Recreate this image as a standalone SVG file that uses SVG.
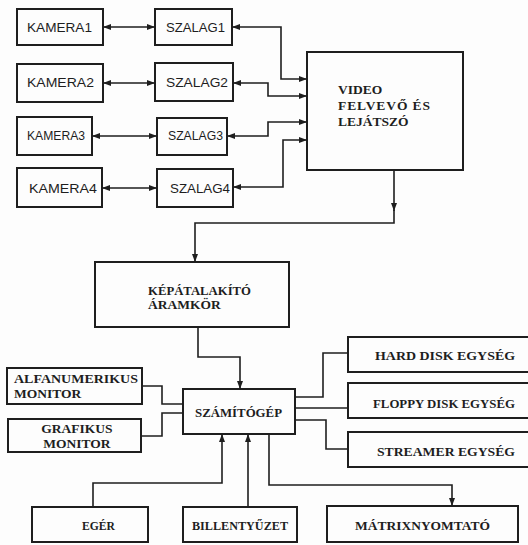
<svg xmlns="http://www.w3.org/2000/svg" width="528" height="545" viewBox="0 0 528 545">
  <style>
    .box { fill: none; stroke: #1e1e1e; stroke-width: 2; }
    .wire { fill: none; stroke: #1e1e1e; stroke-width: 1.6; }
    .sans { font-family: "Liberation Sans", Arial, sans-serif; font-size: 13.5px; fill: #1e1e1e; }
    .serif { font-family: "Liberation Serif", "Times New Roman", serif; font-size: 13.5px; font-weight: bold; fill: #1e1e1e; }
  </style>
  <defs>
    <marker id="arrow" viewBox="0 0 8 6" refX="8" refY="3" markerWidth="8" markerHeight="6" markerUnits="userSpaceOnUse" orient="auto-start-reverse">
      <path d="M0,0 L8,3 L0,6 Z" fill="#1e1e1e"/>
    </marker>
  </defs>
  <rect width="528" height="545" fill="#fdfdfd"/>

  <!-- cameras -->
  <g id="kamera1"><rect class="box" x="17" y="9" width="86" height="36"/><text class="sans" x="27" y="32" textLength="65" lengthAdjust="spacingAndGlyphs">KAMERA1</text></g>
  <g id="kamera2"><rect class="box" x="17" y="64" width="86" height="38"/><text class="sans" x="27" y="87" textLength="67" lengthAdjust="spacingAndGlyphs">KAMERA2</text></g>
  <g id="kamera3"><rect class="box" x="17" y="117" width="75" height="38"/><text class="sans" x="27" y="140" textLength="58" lengthAdjust="spacingAndGlyphs">KAMERA3</text></g>
  <g id="kamera4"><rect class="box" x="17" y="168" width="85" height="39"/><text class="sans" x="29" y="193" textLength="68" lengthAdjust="spacingAndGlyphs">KAMERA4</text></g>

  <!-- tapes -->
  <g id="szalag1"><rect class="box" x="155" y="9" width="77" height="36"/><text class="sans" x="166" y="32" textLength="59" lengthAdjust="spacingAndGlyphs">SZALAG1</text></g>
  <g id="szalag2"><rect class="box" x="155" y="63" width="78" height="38"/><text class="sans" x="166" y="87" textLength="62" lengthAdjust="spacingAndGlyphs">SZALAG2</text></g>
  <g id="szalag3"><rect class="box" x="157" y="118" width="70" height="37"/><text class="sans" x="168" y="140" textLength="55" lengthAdjust="spacingAndGlyphs">SZALAG3</text></g>
  <g id="szalag4"><rect class="box" x="157" y="169" width="76" height="38"/><text class="sans" x="170" y="193" textLength="60" lengthAdjust="spacingAndGlyphs">SZALAG4</text></g>

  <!-- video recorder -->
  <g id="video">
    <rect class="box" x="307" y="52" width="156" height="118"/>
    <text class="serif" x="338" y="94">VIDEO</text>
    <text class="serif" x="338" y="110" textLength="92" lengthAdjust="spacing">FELVEVŐ ÉS</text>
    <text class="serif" x="338" y="126">LEJÁTSZÓ</text>
  </g>

  <!-- image converter -->
  <g id="kepatalakito">
    <rect class="box" x="95" y="262" width="194" height="65"/>
    <text class="serif" x="148" y="295" textLength="103" lengthAdjust="spacingAndGlyphs">KÉPÁTALAKÍTÓ</text>
    <text class="serif" x="148" y="309">ÁRAMKÖR</text>
  </g>

  <!-- computer -->
  <g id="szamitogep">
    <rect class="box" x="183" y="389" width="112" height="45"/>
    <text class="serif" x="195" y="417" textLength="87" lengthAdjust="spacingAndGlyphs">SZÁMÍTÓGÉP</text>
  </g>

  <!-- monitors -->
  <g id="alfanumerikus">
    <rect class="box" x="7" y="368" width="135" height="36"/>
    <text class="serif" x="14" y="383" textLength="124" lengthAdjust="spacingAndGlyphs">ALFANUMERIKUS</text>
    <text class="serif" x="14" y="398">MONITOR</text>
  </g>
  <g id="grafikus">
    <rect class="box" x="8" y="419" width="133" height="33"/>
    <text class="serif" x="77" y="433" text-anchor="middle">GRAFIKUS</text>
    <text class="serif" x="77" y="448" text-anchor="middle">MONITOR</text>
  </g>

  <!-- storage units -->
  <g id="harddisk">
    <rect class="box" x="348" y="337" width="190" height="35"/>
    <text class="serif" x="375" y="360" textLength="140" lengthAdjust="spacingAndGlyphs">HARD DISK EGYSÉG</text>
  </g>
  <g id="floppy">
    <rect class="box" x="348" y="383" width="190" height="35"/>
    <text class="serif" x="373" y="408" textLength="142" lengthAdjust="spacingAndGlyphs">FLOPPY DISK EGYSÉG</text>
  </g>
  <g id="streamer">
    <rect class="box" x="348" y="432" width="190" height="35"/>
    <text class="serif" x="377" y="456" textLength="138" lengthAdjust="spacingAndGlyphs">STREAMER EGYSÉG</text>
  </g>

  <!-- peripherals -->
  <g id="eger">
    <rect class="box" x="32" y="507" width="116" height="35"/>
    <text class="serif" x="82" y="530" textLength="33" lengthAdjust="spacingAndGlyphs">EGÉR</text>
  </g>
  <g id="billentyuzet">
    <rect class="box" x="183" y="507" width="114" height="35"/>
    <text class="serif" x="192" y="530" textLength="96" lengthAdjust="spacingAndGlyphs">BILLENTYŰZET</text>
  </g>
  <g id="matrixnyomtato">
    <rect class="box" x="327" y="506" width="191" height="36"/>
    <text class="serif" x="355" y="530" textLength="135" lengthAdjust="spacingAndGlyphs">MÁTRIXNYOMTATÓ</text>
  </g>

  <g id="connectors">
    <!-- camera <-> tape -->
    <path class="wire" d="M103,27 H155" marker-start="url(#arrow)" marker-end="url(#arrow)"/>
    <path class="wire" d="M103,83 H155" marker-start="url(#arrow)" marker-end="url(#arrow)"/>
    <path class="wire" d="M92,136 H157" marker-start="url(#arrow)" marker-end="url(#arrow)"/>
    <path class="wire" d="M102,188 H157" marker-start="url(#arrow)" marker-end="url(#arrow)"/>
    <!-- tape <-> recorder -->
    <path class="wire" d="M232,27 H281 V79 H307" marker-start="url(#arrow)" marker-end="url(#arrow)"/>
    <path class="wire" d="M233,83 H268 V96 H307" marker-start="url(#arrow)" marker-end="url(#arrow)"/>
    <path class="wire" d="M227,136 H268 V122 H307" marker-start="url(#arrow)" marker-end="url(#arrow)"/>
    <path class="wire" d="M233,187 H283 V140 H307" marker-start="url(#arrow)" marker-end="url(#arrow)"/>
    <!-- recorder -> converter -->
    <path class="wire" d="M394,170 V211" marker-end="url(#arrow)"/>
    <path class="wire" d="M394,210 V223 H195 V262" marker-end="url(#arrow)"/>
    <!-- converter -> computer -->
    <path class="wire" d="M198,327 V357 H240 V389" marker-end="url(#arrow)"/>
    <!-- monitors -->
    <path class="wire" d="M142,386 H162 V404 H183"/>
    <path class="wire" d="M141,436 H162 V413 H183"/>
    <!-- storage -->
    <path class="wire" d="M295,397 H323 V353 H348"/>
    <path class="wire" d="M295,408 H348"/>
    <path class="wire" d="M295,420 H326 V449 H348"/>
    <!-- peripherals -->
    <path class="wire" d="M93,507 V483 H222 V434" marker-end="url(#arrow)"/>
    <path class="wire" d="M248,507 V434" marker-end="url(#arrow)"/>
    <path class="wire" d="M269,434 V485 H452 V506" marker-end="url(#arrow)"/>
  </g>
</svg>
